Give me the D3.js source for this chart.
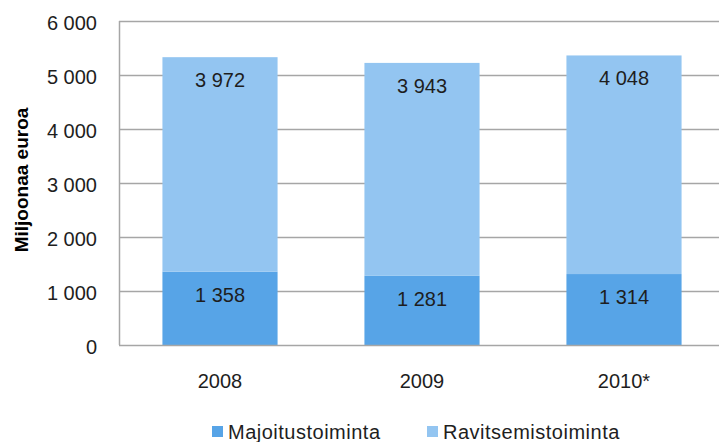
<!DOCTYPE html>
<head>
    <meta charset="utf-8">
    <script src="https://d3js.org/d3.v7.min.js"></script>
    <style>
      body { margin: 0; background: #fff; }
      text { font-family: "Liberation Sans", Arial, sans-serif; fill: #1e1e1e; }
    </style>
</head>

<body>
    <div id="chart"></div>
</body>

<script>

  // data
  const years = ["2008", "2009", "2010*"];
  const majoitus = [1358, 1281, 1314];
  const ravitsemis = [3972, 3943, 4048];
  const seriesNames = ["Majoitustoiminta", "Ravitsemistoiminta"];
  const yTicks = [0, 1000, 2000, 3000, 4000, 5000, 6000];

  const colors = ["#57a4e7", "#93c5f1"];

  const W = 719, H = 442;
  const margin = {top: 21, right: -6, bottom: 97, left: 119};
  const width = W - margin.left - margin.right,
        height = H - margin.top - margin.bottom;

  const fmt = d3.formatLocale({decimal: ",", thousands: " ", grouping: [3], currency: ["", " €"]}).format(",d");

  const svg = d3.select("#chart").append("svg")
    .attr("width", W)
    .attr("height", H);

  const g = svg.append("g")
    .attr("transform", `translate(${margin.left}, ${margin.top})`);

  const x = d3.scaleBand()
    .domain(years)
    .range([0, width])
    .paddingInner(0.43)
    .paddingOuter(0.215);

  const y = d3.scaleLinear()
    .domain([0, 6000])
    .range([height, 0]);

  // gridlines
  g.selectAll(".grid")
    .data(yTicks.filter(d => d > 0))
    .join("line")
    .attr("x1", 0)
    .attr("x2", W - margin.left)
    .attr("y1", d => Math.round(y(d)) + 0.5)
    .attr("y2", d => Math.round(y(d)) + 0.5)
    .attr("stroke", "#a6a6a6")
    .attr("stroke-width", 1.5);

  // y tick labels
  g.selectAll(".ylab")
    .data(yTicks)
    .join("text")
    .attr("x", -22)
    .attr("y", d => y(d) + 1.5)
    .attr("dy", "0.35em")
    .attr("text-anchor", "end")
    .style("font-size", "20px")
    .text(d => fmt(d));

  // stacked data
  const table = years.map((yr, i) => ({year: yr, Majoitustoiminta: majoitus[i], Ravitsemistoiminta: ravitsemis[i]}));
  const stacked = d3.stack().keys(seriesNames)(table);

  const layers = g.selectAll(".layer")
    .data(stacked)
    .join("g")
    .attr("fill", (d, i) => colors[i]);

  layers.selectAll("rect")
    .data(d => d)
    .join("rect")
    .attr("x", d => x(d.data.year))
    .attr("width", x.bandwidth())
    .attr("y", d => y(d[1]))
    .attr("height", d => y(d[0]) - y(d[1]));

  // value labels, near top of each segment
  layers.selectAll("text")
    .data((d, i) => d.map(v => ({v: v, key: d.key})))
    .join("text")
    .attr("x", d => x(d.v.data.year) + x.bandwidth() / 2)
    .attr("y", d => y(d.v[1]) + 23)
    .attr("dy", "0.35em")
    .attr("text-anchor", "middle")
    .style("font-size", "20px")
    .text(d => fmt(d.v.data[d.key]));

  // axes lines
  g.append("line")
    .attr("x1", 0.5).attr("x2", 0.5)
    .attr("y1", 0).attr("y2", height)
    .attr("stroke", "#a6a6a6")
    .attr("stroke-width", 1.5);
  g.append("line")
    .attr("x1", 0).attr("x2", W - margin.left)
    .attr("y1", height + 0.5).attr("y2", height + 0.5)
    .attr("stroke", "#a6a6a6")
    .attr("stroke-width", 1.5);

  // x labels
  g.selectAll(".xlab")
    .data(years)
    .join("text")
    .attr("x", d => x(d) + x.bandwidth() / 2)
    .attr("y", height + 36)
    .attr("dy", "0.35em")
    .attr("text-anchor", "middle")
    .style("font-size", "20px")
    .text(d => d);

  // y title
  svg.append("text")
    .attr("transform", "translate(21, 180) rotate(-90)")
    .attr("dy", "0.35em")
    .attr("text-anchor", "middle")
    .style("font-size", "19px")
    .style("font-weight", "bold")
    .style("fill", "#000")
    .text("Miljoonaa euroa");

  // legend
  const legendX = [212, 427];
  const legend = svg.selectAll(".legend")
    .data(seriesNames)
    .join("g")
    .attr("transform", (d, i) => `translate(${legendX[i]}, 426)`);
  legend.append("rect")
    .attr("width", 11)
    .attr("height", 11)
    .attr("fill", (d, i) => colors[i]);
  legend.append("text")
    .attr("x", 16)
    .attr("y", 6)
    .attr("dy", "0.35em")
    .style("font-size", "20px")
    .style("letter-spacing", "0.5px")
    .text(d => d);

</script>
